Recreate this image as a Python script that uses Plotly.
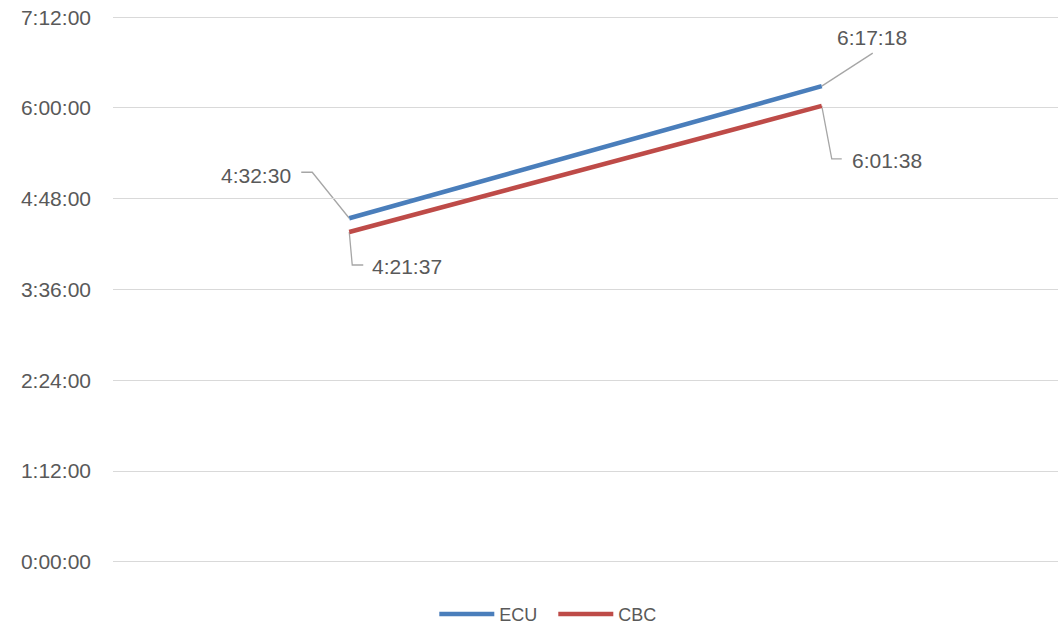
import plotly.graph_objects as go

# Two measurement points per series (durations in h:mm:ss)
categories = ["1", "2"]
ecu_times = ["4:32:30", "6:17:18"]
cbc_times = ["4:21:37", "6:01:38"]

# Y axis ticks (every 1:12:00)
tick_labels = ["0:00:00", "1:12:00", "2:24:00", "3:36:00", "4:48:00", "6:00:00", "7:12:00"]


def to_seconds(t):
    h, m, s = (int(p) for p in t.split(":"))
    return h * 3600 + m * 60 + s


ecu_sec = [to_seconds(t) for t in ecu_times]
cbc_sec = [to_seconds(t) for t in cbc_times]
tick_sec = [to_seconds(t) for t in tick_labels]

BLUE = "#4A7EBB"
RED = "#BE4B48"
TEXT = "#595959"
LEADER = "#A6A6A6"
FONT = "Liberation Sans, Arial, sans-serif"

# small padding so the first and last gridlines are drawn inside the plot area
pad = 0.0022 * tick_sec[-1]

fig = go.Figure()
fig.add_trace(go.Scatter(x=[0, 1], y=ecu_sec, mode="lines", name="ECU",
                         line=dict(color=BLUE, width=4.5)))
fig.add_trace(go.Scatter(x=[0, 1], y=cbc_sec, mode="lines", name="CBC",
                         line=dict(color=RED, width=4.5)))

# Data labels with elbow leader lines, offsets in pixels from each point
label_specs = [
    # (series values, texts, index, leader path, xshift, yshift, xanchor)
    (ecu_sec, ecu_times, 0, "M 0 0 L -37 46 L -48 46", -56, 43, "right"),
    (cbc_sec, cbc_times, 0, "M 0 0 L 3 -33 L 14 -33", 21, -35, "left"),
    (ecu_sec, ecu_times, 1, "M 0 0 L 51 33", 50, 49, "center"),
    (cbc_sec, cbc_times, 1, "M 0 0 L 10 -53 L 20 -53", 28, -55, "left"),
]
for vals, texts, i, path, xs, ys, xa in label_specs:
    fig.add_shape(type="path", xref="x", yref="y",
                  xsizemode="pixel", ysizemode="pixel",
                  xanchor=i, yanchor=vals[i], path=path,
                  line=dict(color=LEADER, width=1.3), layer="below")
    fig.add_annotation(x=i, y=vals[i], text=texts[i], showarrow=False,
                       xanchor=xa, yanchor="middle", xshift=xs, yshift=ys,
                       font=dict(family=FONT, size=21, color=TEXT))

fig.update_layout(
    width=1062, height=625,
    margin=dict(l=113, r=4, t=16, b=62, autoexpand=False),
    paper_bgcolor="white", plot_bgcolor="white",
    font=dict(family=FONT, color=TEXT),
    showlegend=True,
    legend=dict(orientation="h", x=0.34, xanchor="left", y=-0.094,
                yanchor="middle", font=dict(family=FONT, size=18, color=TEXT),
                itemwidth=55, entrywidth=49, entrywidthmode="pixels",
                bgcolor="rgba(0,0,0,0)"),
    xaxis=dict(range=[-0.5, 1.5], tickvals=[0, 1], ticktext=categories,
               showticklabels=False, showgrid=False, zeroline=False,
               showline=False, fixedrange=True),
    yaxis=dict(range=[-pad, tick_sec[-1] + pad], tickvals=tick_sec,
               ticktext=tick_labels,
               showgrid=True, gridcolor="#D9D9D9", gridwidth=1.3,
               zeroline=False, showline=False, ticks="",
               ticklabelstandoff=21,
               tickfont=dict(family=FONT, size=21, color=TEXT)),
)

fig.write_html("out.html")
